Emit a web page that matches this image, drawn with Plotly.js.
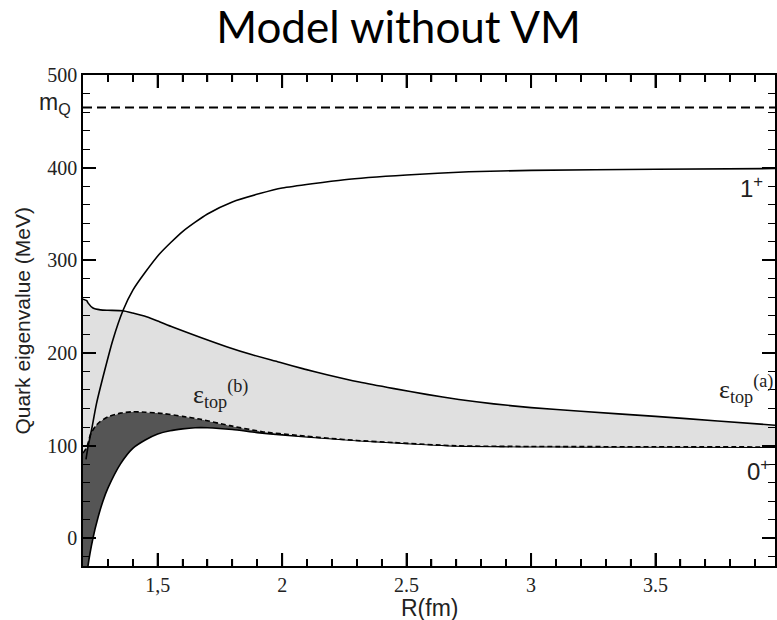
<!DOCTYPE html>
<html>
<head>
<meta charset="utf-8">
<script src="https://cdn.plot.ly/plotly-3.0.1.min.js"></script>
<style>html,body{margin:0;padding:0;background:#fff;}#chart{width:777px;height:620px;}</style>
</head>
<body>
<div id="chart"></div>
<script>
// ---- data ----
const mQ = 465;
const mQx = [1.2, 3.98];

const x0p = [1.2, 1.21, 1.22, 1.24, 1.26, 1.28, 1.3, 1.35, 1.4, 1.45, 1.5, 1.55, 1.6, 1.65, 1.7, 1.8, 1.9, 2.0, 2.2, 2.45, 2.7, 3.0, 3.2, 3.5, 3.98];
const y0p = [-90, -60, -30, 0, 22, 40, 54, 80, 97, 106, 112.5, 116, 118, 119.2, 119.2, 117.3, 114, 111.5, 107.3, 103, 99.5, 98.8, 98.6, 98.5, 98.3];

const xTopB = [1.2, 1.215, 1.23, 1.25, 1.27, 1.3, 1.35, 1.4, 1.45, 1.52, 1.6, 1.66, 1.79, 1.92, 2.06, 2.19, 2.3, 2.45, 2.7, 3.0, 3.5, 3.98];
const yTopB = [92, 98, 112, 121, 126, 131, 135, 136.5, 136, 134.6, 131.5, 129, 121.5, 115, 111, 107.8, 105.5, 103.2, 99.7, 99, 98.7, 98.5];

const xTopA = [1.2, 1.215, 1.22, 1.24, 1.27, 1.3, 1.36, 1.4, 1.455, 1.5, 1.56, 1.67, 1.78, 1.88, 1.99, 2.09, 2.18, 2.31, 2.45, 2.58, 2.71, 2.85, 3.0, 3.2, 3.5, 3.75, 3.98];
const yTopA = [258, 256.5, 254, 248.5, 246.5, 246, 245.5, 243, 239, 234.5, 228, 217, 206.5, 198, 190, 182.5, 176.5, 168.6, 161.5, 155.3, 149.8, 145, 141, 137, 131.5, 126.5, 122];

const x1p = [1.212, 1.22, 1.234, 1.254, 1.287, 1.32, 1.361, 1.401, 1.45, 1.508, 1.6, 1.7, 1.8, 1.91, 2.0, 2.25, 2.5, 2.75, 3.0, 3.5, 3.98];
const y1p = [85, 98.5, 116.5, 145, 181, 214, 246, 268, 287, 307, 331, 350, 363, 372, 378, 387, 392, 395.5, 397, 398.3, 399];

// x axis tick values (major labelled, minor every 0.1)
const xMajorTicks = [1.5, 2, 2.5, 3, 3.5];
const xMinorTicks = [1.3, 1.4, 1.6, 1.7, 1.8, 1.9, 2.1, 2.2, 2.3, 2.4, 2.6, 2.7, 2.8, 2.9, 3.1, 3.2, 3.3, 3.4, 3.6, 3.7, 3.8, 3.9];
const xLabelAlias = {'1.5': '1,5'};

// ---- traces ----
const traces = [
  {x: x0p, y: y0p, mode: 'lines', line: {color: '#000', width: 1.6, shape: 'spline', smoothing: 0.6}},
  {x: xTopB, y: yTopB, mode: 'lines', fill: 'tonexty', fillcolor: '#555555',
   line: {color: '#000', width: 1.6, dash: '5px,3px', shape: 'spline', smoothing: 0.6}},
  {x: xTopA, y: yTopA, mode: 'lines', fill: 'tonexty', fillcolor: '#e0e0e0',
   line: {color: '#000', width: 1.6, shape: 'spline', smoothing: 0.6}},
  {x: x1p, y: y1p, mode: 'lines', line: {color: '#000', width: 1.6, shape: 'spline', smoothing: 0.6}},
  {x: mQx, y: [mQ, mQ], mode: 'lines', line: {color: '#000', width: 2, dash: '9px,5px'}}
];

const PLOT_H = 620 - 75 - 54; // plot-area height in px, for tick lengths in paper units

// inward x tick marks on the bottom and top frame
function tickShapes(vals, lenPx, width) {
  const f = lenPx / PLOT_H;
  const out = [];
  vals.forEach(function (v) {
    out.push({type: 'line', layer: 'above', xref: 'x', yref: 'paper',
              x0: v, x1: v, y0: 0, y1: f, line: {color: '#000000', width: width}});
    out.push({type: 'line', layer: 'above', xref: 'x', yref: 'paper',
              x0: v, x1: v, y0: 1 - f, y1: 1, line: {color: '#000000', width: width}});
  });
  return out;
}

const serif = '"Liberation Serif", serif';
const sans = '"Liberation Sans", sans-serif';

const layout = {
  width: 777, height: 620,
  margin: {l: 83, r: 2, t: 75, b: 54},
  paper_bgcolor: '#fff', plot_bgcolor: 'rgba(0,0,0,0)',
  showlegend: false,
  title: {text: 'Model without VM', x: 0.513, xanchor: 'center', y: 0.955, yanchor: 'middle',
          font: {family: 'Lato', size: 44, color: '#000'}},
  xaxis: {
    range: [1.2, 3.98], showgrid: false, zeroline: false,
    showline: true, linecolor: 'black', linewidth: 1.5, mirror: 'ticks',
    ticks: 'inside', ticklen: 13, tickwidth: 2, tickcolor: 'black',
    tickmode: 'linear', tick0: 0, dtick: 0.5, labelalias: xLabelAlias,
    tickfont: {family: serif, size: 20, color: '#222'},
    minor: {ticks: 'inside', dtick: 0.1, ticklen: 7, tickwidth: 1.5, tickcolor: 'black'}
  },
  yaxis: {
    range: [-30, 500], showgrid: false, zeroline: false,
    showline: true, linecolor: 'black', linewidth: 1.5, mirror: 'ticks',
    ticks: 'inside', ticklen: 13, tickwidth: 1.5, tickcolor: 'black',
    tickmode: 'linear', tick0: 0, dtick: 100,
    tickfont: {family: serif, size: 20, color: '#222'},
    minor: {ticks: 'inside', dtick: 20, ticklen: 7, tickwidth: 1.2, tickcolor: 'black'}
  },
  shapes: tickShapes(xMajorTicks, 13, 2).concat(tickShapes(xMinorTicks, 7, 1.5)),
  annotations: [
    {xref: 'paper', yref: 'paper', x: -0.088, y: 0.5, xanchor: 'center', yanchor: 'middle',
     text: 'Quark eigenvalue (MeV)', textangle: -90, showarrow: false,
     font: {family: sans, size: 21, color: '#222'}},
    {xref: 'paper', yref: 'paper', x: 0.5, y: -0.086, xanchor: 'center', yanchor: 'middle',
     text: 'R(fm)', showarrow: false, font: {family: sans, size: 23, color: '#222'}},
    {xref: 'paper', yref: 'y', x: -0.014, y: 469, xanchor: 'right', yanchor: 'middle',
     text: 'm<sub>Q</sub>', showarrow: false, font: {family: sans, size: 23, color: '#222'}},
    {xref: 'x', yref: 'y', x: 3.83, y: 379, xanchor: 'left', yanchor: 'middle',
     text: '1<sup>+</sup>', showarrow: false, font: {family: sans, size: 24, color: '#222'}},
    {xref: 'x', yref: 'y', x: 3.858, y: 74, xanchor: 'left', yanchor: 'middle',
     text: '0<sup>+</sup>', showarrow: false, font: {family: sans, size: 24, color: '#222'}},
    {xref: 'x', yref: 'y', x: 1.633, y: 156, xanchor: 'left', yanchor: 'middle',
     text: 'ε<sub>top</sub><sup>(b)</sup>', showarrow: false, font: {family: serif, size: 26, color: '#222'}},
    {xref: 'x', yref: 'y', x: 3.745, y: 161, xanchor: 'left', yanchor: 'middle',
     text: 'ε<sub>top</sub><sup>(a)</sup>', showarrow: false, font: {family: serif, size: 26, color: '#222'}}
  ]
};

Plotly.newPlot('chart', traces, layout, {displayModeBar: false});
</script>
</body>
</html>
